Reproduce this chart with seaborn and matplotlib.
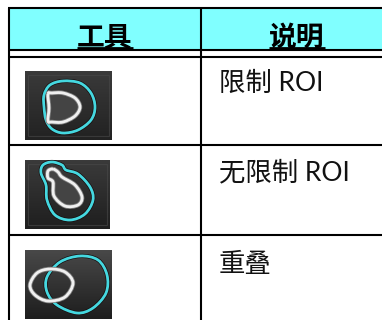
import numpy as np
import matplotlib
matplotlib.use("Agg")
import matplotlib.pyplot as plt
from matplotlib.path import Path
from matplotlib.patches import PathPatch, Rectangle
from matplotlib.colors import LinearSegmentedColormap
import seaborn as sns

sns.set_style("white")
plt.rcParams['font.family'] = ['Lato', 'Noto Sans CJK SC', 'DejaVu Sans']

headers = ["工具", "说明"]
descriptions = ["限制 ROI", "无限制 ROI", "重叠"]
header_color = "#80FFFF"
cyan = "#45D8E0"

col_x = [9, 201, 382]
row_y = [8, 50, 57, 145, 235, 320]

icon_boxes = [(25, 112, 71, 140), (25, 110, 160, 229), (25, 112, 250, 319)]
icon_shades = [("#3a3a3a", "#222222"), ("#3a3a3a", "#1f1f1f"), ("#484848", "#1e1e1e")]
icon_inset = [True, True, False]

cyan_shapes = [
    [(63, 81), (80, 83), (91, 93), (95, 107), (91, 120), (78, 130), (63, 133), (52, 129), (46, 120), (44, 107), (44, 95), (50, 85)],
    [(52, 162), (62, 165), (66, 170), (78, 174), (90, 187), (93, 200), (85, 214), (70, 220), (55, 215), (47, 200), (46, 185), (41, 173), (43, 165)],
    [(80, 256), (98, 260), (107, 275), (106, 293), (93, 308), (77, 313), (57, 305), (47, 292), (47, 277), (60, 262)],
]
white_shapes = [
    [(48, 94), (52, 93), (63, 93), (75, 98), (80, 107), (75, 116), (63, 122), (52, 122), (48, 121), (49, 108)],
    [(53, 169), (58, 172), (62, 177), (75, 185), (82, 197), (78, 205), (65, 206), (54, 196), (53, 182), (48, 178), (48, 171)],
    [(50, 269), (65, 272), (73, 283), (65, 297), (48, 301), (35, 295), (30, 285), (37, 273)],
]


def closed_path(pts):
    p = np.array(pts, float)
    n = len(p)
    verts = [p[0]]
    codes = [Path.MOVETO]
    for i in range(n):
        p0, p1, p2, p3 = p[i - 1], p[i], p[(i + 1) % n], p[(i + 2) % n]
        verts += [p1 + (p2 - p0) / 6, p2 - (p3 - p1) / 6, p2]
        codes += [Path.CURVE4] * 3
    return Path(verts, codes)


fig = plt.figure(figsize=(3.82, 3.20), dpi=100)
ax = fig.add_axes([0, 0, 1, 1])

for box, shade, inset in zip(icon_boxes, icon_shades, icon_inset):
    cmap = LinearSegmentedColormap.from_list("s", shade)
    ax.imshow(np.linspace(0, 1, 40)[:, None], cmap=cmap, aspect="auto",
              extent=(box[0], box[1], box[3], box[2]), zorder=1)
    if inset:
        ax.add_patch(Rectangle((box[0] + 3, box[2] + 4), box[1] - box[0] - 6, box[3] - box[2] - 8,
                               fill=False, ec="#4a4a4a", lw=0.8, alpha=0.6, zorder=1.5))

for i, (c_pts, w_pts) in enumerate(zip(cyan_shapes, white_shapes)):
    ax.add_patch(PathPatch(closed_path(c_pts), fill=False, ec="#180c0c", lw=3.0, zorder=2))
    ax.add_patch(PathPatch(closed_path(c_pts), fill=False, ec=cyan, lw=2.0, zorder=3))
    fc = "#444444" if icon_inset[i] else "none"
    ax.add_patch(PathPatch(closed_path(w_pts), fc=fc, ec="#808080", lw=3.2, zorder=4))
    ax.add_patch(PathPatch(closed_path(w_pts), fill=False, ec="#f0f0f0", lw=2.0, zorder=5))

ax.fill_between([col_x[0], col_x[2]], row_y[0], row_y[1], color=header_color, lw=0, zorder=0)

for y in row_y[:-1]:
    ax.plot([col_x[0] - 1, col_x[2]], [y, y], color="black", lw=1.5, solid_capstyle="butt", zorder=6)
for x in col_x[:-1]:
    ax.plot([x, x], [row_y[0], row_y[-1]], color="black", lw=1.5, solid_capstyle="butt", zorder=6)

for cx, h in zip([105, 296.5], headers):
    ax.text(cx, 38, h, ha="center", va="center", fontsize=20, fontweight="bold",
            family=['Noto Sans CJK SC', 'DejaVu Sans'], color="black", zorder=7)
    ax.plot([cx - 28, cx + 28], [48, 48], color="black", lw=2, solid_capstyle="butt", zorder=7)

for y, d in zip([83, 173, 265], descriptions):
    ax.text(219, y, d, ha="left", va="center", fontsize=19, color="#111111", zorder=7)

ax.set_xlim(0, 382)
ax.set_ylim(320, 0)
ax.axis("off")
fig.savefig("out.png", dpi=100, facecolor="white")
